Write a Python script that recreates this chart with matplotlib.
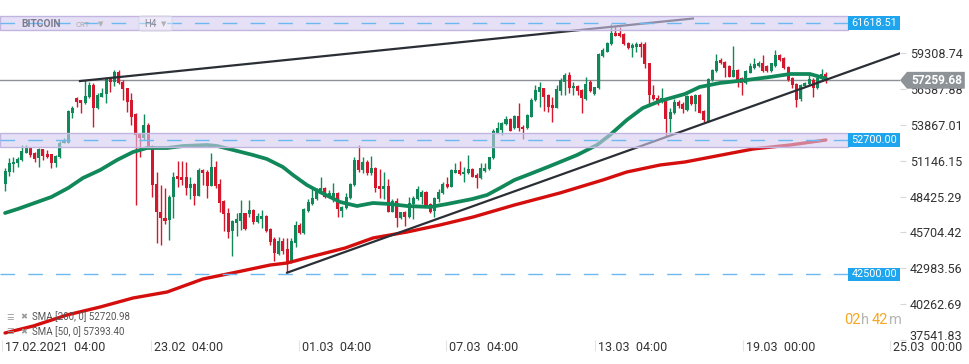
import numpy as np
import matplotlib.pyplot as plt
from matplotlib.patches import Rectangle, Polygon, FancyBboxPatch
from matplotlib.transforms import blended_transform_factory, ScaledTranslation

plt.rcParams['font.family'] = ['Roboto', 'DejaVu Sans']

# ---- BITCOIN H4 candles (17.02.2021 04:00 -> 22.03.2021)
opens = np.array([
    49376, 50288, 50896, 50972, 51200, 51732, 52112, 51732, 51352, 52036,
    51656, 51656, 50972, 51428, 52492, 52492, 54772, 55912, 55760, 55532,
    55988, 56900, 55152, 55988, 56216, 57356, 57128, 57888, 57128, 56672,
    55760, 54696, 53176, 52872, 53860, 52264, 49376, 47248, 46792, 46640,
    48388, 49984, 49908, 49908, 49072, 49376, 48464, 50440, 50288, 49224,
    50668, 49376, 48084, 47172, 45804, 46412, 46564, 47172, 47096, 47400,
    46488, 46716, 46944, 45956, 45196, 44056, 45044, 44436, 43448, 44892,
    46260, 45652, 47324, 47856, 48236, 48768, 49072, 48388, 48388, 48692,
    47324, 47552, 48312, 49300, 51200, 50440, 51048, 50212, 50592, 49224,
    48996, 49224, 47248, 48084, 46792, 47248, 46868, 47856, 48236, 48388,
    48768, 47856, 47324, 48236, 48692, 49376, 49148, 50212, 50440, 50136,
    50212, 50516, 50060, 49832, 50364, 50516, 51352, 53252, 53480, 53936,
    54316, 53632, 54544, 53708, 53632, 54468, 55760, 56368, 56672, 56140,
    55380, 55152, 56444, 57128, 57660, 56672, 56824, 56520, 55836, 57128,
    56216, 56672, 59104, 59408, 60016, 60852, 60852, 60776, 60092, 59712,
    59788, 60016, 60016, 58572, 56140, 55912, 55684, 55836, 54316, 54772,
    55608, 55456, 55000, 56064, 55456, 56140, 54924, 54164, 57280, 57964,
    58800, 58648, 58344, 57508, 58040, 57432, 57052, 57812, 58192, 58344,
    58572, 58344, 57964, 58344, 59180, 58952, 58268, 57432, 56976, 55836,
    56824, 56976, 57280, 56672, 57356, 57736])
highs = np.array([
    50592, 51352, 51428, 51428, 52340, 52340, 52112, 51808, 52112, 52036,
    51960, 51656, 51580, 52644, 52872, 55000, 55304, 55988, 55760, 57280,
    57128, 57052, 56292, 56672, 57508, 57432, 58040, 58040, 57280, 56672,
    56292, 54772, 53252, 54696, 54012, 52340, 50288, 49300, 49072, 48540,
    50288, 51124, 51124, 51048, 49908, 49452, 50592, 50516, 50440, 51732,
    51124, 49756, 48160, 47552, 46640, 47172, 48160, 47172, 48160, 47476,
    47172, 47400, 47020, 46032, 45348, 45348, 45272, 45272, 45272, 46564,
    46412, 47552, 48236, 49072, 49072, 49908, 49148, 48920, 49452, 48768,
    47704, 48692, 49452, 51428, 52340, 51428, 51200, 51504, 50668, 50516,
    50288, 49756, 48236, 48312, 47248, 47324, 48388, 48464, 49224, 48920,
    48844, 47932, 48388, 48996, 49528, 49908, 50516, 50972, 51124, 50668,
    51580, 50592, 50212, 50972, 50972, 51428, 53556, 54088, 54088, 54544,
    54392, 54620, 55532, 53860, 54696, 55912, 56900, 57128, 56672, 56216,
    55988, 56900, 57432, 57812, 57888, 57128, 56900, 56596, 57508, 57280,
    56748, 59332, 59712, 60168, 61536, 61384, 61308, 60852, 60168, 60092,
    60168, 60168, 60168, 58572, 56900, 56140, 56672, 55912, 55152, 55836,
    55760, 55608, 56140, 56140, 56216, 56216, 55000, 57432, 58116, 59256,
    58952, 58724, 58420, 59864, 58116, 57508, 58040, 58572, 58952, 58724,
    59180, 58420, 58572, 59560, 59256, 59028, 58344, 57508, 57052, 56976,
    57128, 57812, 57432, 57508, 58116, 57888])
lows = np.array([
    48844, 49984, 50288, 50668, 51124, 51732, 51428, 51048, 50668, 51200,
    51352, 50592, 50668, 51352, 52492, 52492, 54392, 55228, 54772, 55456,
    55912, 53708, 55076, 55988, 55532, 56368, 56824, 56976, 55760, 54848,
    53860, 47780, 51428, 52720, 52112, 48388, 44892, 44740, 46336, 45120,
    46792, 49148, 49300, 48540, 48236, 47780, 48464, 49300, 48312, 49224,
    49072, 47248, 45804, 45272, 43904, 45424, 45880, 45880, 46868, 46336,
    46412, 46032, 45728, 44740, 43524, 43980, 44056, 42612, 43372, 44588,
    45576, 45576, 47248, 47780, 48160, 48692, 48312, 48312, 48008, 46868,
    46868, 47476, 48236, 49224, 50288, 50212, 50060, 50060, 48768, 48312,
    48236, 47248, 47248, 46108, 46716, 46184, 46792, 46716, 48160, 47856,
    47628, 47172, 46868, 48008, 48616, 49072, 49148, 50212, 50060, 49528,
    50136, 49908, 49072, 49756, 50288, 50440, 51276, 53252, 53100, 53860,
    53404, 53556, 53404, 52796, 53556, 54468, 55684, 55228, 54924, 54848,
    54088, 55152, 56140, 56140, 56292, 56140, 56140, 54772, 55760, 56368,
    56140, 56596, 59028, 59408, 59940, 60624, 60548, 59940, 59636, 59028,
    59408, 59028, 58192, 55380, 55760, 55380, 55532, 53024, 53328, 54696,
    55152, 54772, 54924, 55380, 54924, 54772, 54088, 54088, 57204, 57888,
    58496, 57508, 57508, 57508, 56748, 56140, 56976, 57812, 58116, 58268,
    57888, 57888, 57888, 58268, 58724, 58116, 57204, 56672, 55228, 55684,
    56748, 56900, 55988, 56596, 57204, 57052])
closes = np.array([
    50364, 50972, 51048, 51276, 51884, 52112, 51580, 51276, 52036, 51504,
    51428, 50972, 51504, 52492, 52644, 54924, 55152, 55608, 55532, 56064,
    56900, 55152, 56140, 56292, 57356, 57128, 57888, 57052, 56596, 55608,
    54468, 53100, 52872, 53860, 52188, 49300, 47248, 46792, 46564, 48388,
    49908, 49756, 49680, 49072, 49376, 48464, 50440, 50212, 49224, 50668,
    49224, 47932, 47096, 45728, 46564, 46716, 47172, 45956, 47400, 46488,
    46944, 46944, 45804, 44968, 44132, 45044, 44284, 43448, 45044, 46260,
    45652, 47476, 48008, 48312, 48996, 49072, 48388, 48692, 48692, 47476,
    47628, 48388, 49376, 51200, 50440, 51048, 50212, 50592, 49072, 48996,
    49224, 47248, 48084, 46792, 47248, 46868, 47932, 48312, 48996, 48768,
    47704, 47248, 48312, 48768, 49376, 49148, 50440, 50440, 50136, 50288,
    50516, 49908, 49832, 50592, 50592, 51428, 53404, 53632, 54012, 54316,
    53404, 54544, 53632, 53556, 54620, 55760, 56520, 56748, 55988, 55228,
    55152, 56596, 57280, 57660, 56672, 56824, 56444, 55912, 56976, 56444,
    56748, 59256, 59560, 60092, 60852, 60624, 60624, 60016, 59712, 59940,
    60016, 59788, 58496, 56140, 55836, 55684, 55912, 54316, 54848, 55608,
    55304, 55076, 56064, 55456, 56140, 54772, 54240, 57356, 58040, 58724,
    58572, 58192, 57508, 58040, 57128, 57052, 57964, 58344, 58496, 58572,
    57964, 57964, 58572, 59180, 58800, 58192, 57280, 56900, 55760, 56900,
    57052, 57356, 56672, 57432, 57736, 57259.68])

# ---- moving averages (candle index, price)
sma50_idx = [0, 3, 7, 11, 15, 18.5, 22.6, 26.6, 30.4, 33.7, 38.5, 42.3, 48, 50.4,
             54.2, 58.9, 62.2, 66, 68.4, 71.7, 74.8, 79.6, 83.6, 87.4, 91.4, 95.5,
             101, 105, 111, 114.5, 117.6, 121, 124.7, 129.5, 135.9, 140.6, 143.7,
             147.7, 151.5, 155.6, 161.5, 165, 169.8, 176.2, 181.7, 186.5, 191.2, 195]
sma50_val = [47172, 47476, 47932, 48388, 49072, 49832, 50440, 51200, 51808, 52112,
             52112, 52264, 52340, 52264, 51960, 51580, 51276, 50668, 50060, 49300,
             48768, 48008, 47704, 47932, 47856, 47704, 47628, 47856, 48236, 48540,
             49072, 49680, 50136, 50744, 51580, 52340, 53100, 54240, 55152, 55684,
             56216, 56748, 57052, 57280, 57508, 57736, 57736, 57393.40]
sma200_idx = [0, 6.7, 14.7, 22.6, 30.4, 38.5, 47, 55.1, 63, 67, 72.4, 80.8, 87.4,
              95.5, 103.3, 111.2, 121, 131.8, 142, 147.7, 155.6, 161.5, 177.7, 186.5, 195]
sma200_val = [38052, 38584, 39420, 40028, 40712, 41168, 42156, 42688, 43220, 43372,
              43828, 44512, 45272, 45728, 46260, 46868, 47780, 48692, 49680, 50288,
              50820, 51048, 52036, 52340, 52720.98]

# ---- drawn trend lines (start/end)
trend_upper = ([17.8, 163.4], [57200, 61954])
trend_lower = ([67.0, 212.6], [42635, 59308.74])

levels = [61618.51, 52700.00, 42500.00]
level_bands = [True, True, False]
last_price = 57259.68

yticks = [59308.74, 56587.88, 53867.01, 51146.15, 48425.29, 45704.42,
          42983.56, 40262.69, 37541.83]
xtick_pos = [-0.7, 34.7, 69.8, 104.7, 140.1, 175.3, 210.2]
xtick_lab = ["17.02.2021  04:00", "23.02  04:00", "01.03  04:00", "07.03  04:00",
             "13.03  04:00", "19.03  00:00", "25.03  00:00"]

GREEN = "#10885a"
RED = "#d3172c"
BLUE = "#1ea5ee"

W, H = 970, 364
fig = plt.figure(figsize=(W / 100, H / 100), dpi=100)
ax = fig.add_axes([0, 24 / H, 900 / W, 340 / H])
ax.set_xlim(-1.2, 212.6)
ax.set_ylim(37520, 63360)
for s in ax.spines.values():
    s.set_visible(False)
trans = blended_transform_factory(ax.transAxes, ax.transData)

# ---- candles
x = np.arange(len(closes))
col = np.where(closes >= opens, GREEN, RED)
ax.vlines(x, lows, highs, colors=col, lw=1, zorder=3)
body_lo = np.minimum(opens, closes)
body_h = np.maximum(np.abs(closes - opens), 70)
ax.bar(x, body_h, bottom=body_lo, width=0.72, color=col, lw=0, zorder=4)

# ---- current price line
ax.axhline(last_price, color="#8d9196", lw=1, zorder=2.5)

# ---- moving averages and trend lines
ax.plot(sma50_idx, sma50_val, color=GREEN, lw=2.7, zorder=5, solid_capstyle="round")
ax.plot(sma200_idx, sma200_val, color="#d40d0d", lw=2.4, zorder=5, solid_capstyle="round")
for tx, ty in (trend_upper, trend_lower):
    ax.plot(tx, ty, color="#2a2e35", lw=1.6, zorder=6)

# ---- horizontal levels
for lvl, band in zip(levels, level_bands):
    if band:
        ax.add_patch(Rectangle((0, lvl - 520), 0.942, 1040, transform=trans,
                               fc=(0.83, 0.80, 0.94, 0.6), ec="#c2b6e0", lw=1, zorder=7))
    ax.plot([0, 0.942], [lvl, lvl], transform=trans, color="#6cb8f0", lw=1,
            ls=(0, (10.5, 9.5)), zorder=8)
    ax.add_patch(Rectangle((0.9425, lvl - 520), 0.0575, 1040, transform=trans,
                           fc=BLUE, lw=0, zorder=10, clip_on=False))
    ax.text(0.9715, lvl, f"{lvl:.2f}", transform=trans, color="white",
            fontsize=7.8, ha="center", va="center", zorder=11)

# ---- current price tag
tag = Polygon([(1.0, last_price), (1.0078, last_price + 640), (1.072, last_price + 640),
               (1.072, last_price - 640), (1.0078, last_price - 640)],
              closed=True, transform=trans, fc="#8e9398", ec="none",
              zorder=10, clip_on=False)
ax.add_patch(tag)
ax.text(1.0405, last_price, f"{last_price:.2f}", transform=trans, color="white",
        fontsize=8.6, fontweight="bold", ha="center", va="center", zorder=11)

# ---- axes ticks
ax.yaxis.tick_right()
ax.set_yticks(yticks)
ax.set_yticklabels([f"{v:.2f}" for v in yticks])
ax.tick_params(axis="y", length=4, color="#d8d8d8", pad=3, labelsize=9,
               labelcolor="#333333")
ylabs = ax.get_yticklabels()
ylabs[-1].set_transform(ylabs[-1].get_transform()
                        + ScaledTranslation(0, 5 / 100, fig.dpi_scale_trans))

ax.set_xticks(xtick_pos)
ax.set_xticklabels(xtick_lab, ha="left")
ax.tick_params(axis="x", length=8, color="#e4e4e4", width=0.8, pad=-7,
               labelsize=9, labelcolor="#333333")
for lbl in ax.get_xticklabels():
    lbl.set_transform(lbl.get_transform() + ScaledTranslation(3 / 100, 0, fig.dpi_scale_trans))

# ---- header text
def px(xp, yp):
    return xp / W, 1 - yp / H

fig.text(*px(21, 24), "BITCOIN", fontsize=7.4, fontweight="bold", color="#7c7c8c",
         va="center", zorder=12)
fig.text(*px(75, 25), "CRT", fontsize=5.5, color="#aaaaaa", va="center", zorder=12)
fig.text(*px(98, 24), "▼", fontsize=5, color="#b0b0b0", va="center",
         family=["DejaVu Sans"], zorder=12)
fig.patches.append(FancyBboxPatch(px(139, 31), 33 / W, 15 / H,
                                  boxstyle="round,pad=0,rounding_size=0.004",
                                  transform=fig.transFigure, fc=(1, 1, 1, 0.35),
                                  ec="#d6d6de", lw=0.6, zorder=12))
fig.text(*px(144, 24), "H4", fontsize=7, color="#8a8a94", va="center", zorder=13)
fig.text(*px(161, 24), "▼", fontsize=5, color="#b0b0b0", va="center",
         family=["DejaVu Sans"], zorder=13)

# ---- indicator legend
for yy, name in ((317, "SMA [200, 0] 52720.98"), (332, "SMA [50, 0] 57393.40")):
    fig.text(*px(6, yy), "☰", fontsize=6, color="#9a9a9a", va="center",
             family=["DejaVu Sans"])
    fig.text(*px(20, yy), "✖", fontsize=6, color="#9a9a9a", va="center",
             family=["DejaVu Sans"])
    fig.text(*px(32, yy), name, fontsize=7, color="#555555", va="center")

# ---- candle countdown
for xp, s, c in ((844, "02", "#f5a623"), (861, "h", "#b5b5b5"),
                 (872, "42", "#f5a623"), (889, "m", "#b5b5b5")):
    fig.text(*px(xp, 320), s, fontsize=10.5, color=c, va="center")

fig.savefig("out.png", dpi=100)
